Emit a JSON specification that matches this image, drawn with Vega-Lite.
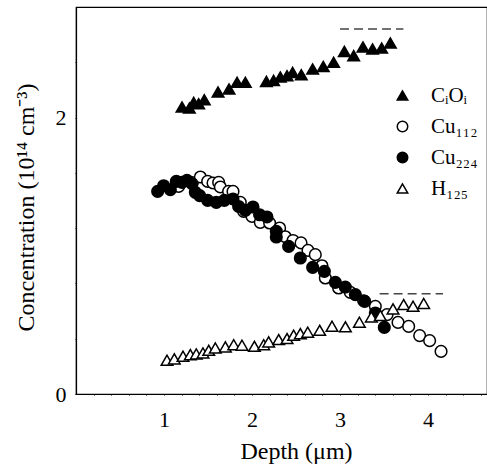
{
  "$schema": "https://vega.github.io/schema/vega-lite/v6.json",
  "width": 411,
  "height": 387,
  "autosize": "none",
  "padding": {"left": 76, "top": 7, "right": 0, "bottom": 71},
  "background": "white",
  "config": {
    "font": "Liberation Serif",
    "view": {"stroke": "black", "strokeWidth": 1.2},
    "axis": {"grid": false, "zindex": 1, "domainColor": "black", "tickColor": "black", "labelColor": "black", "titleColor": "black", "domainWidth": 1.2, "tickWidth": 1, "ticks": true, "domain": true}
  },
  "datasets": {
    "pts": [
      {"series": "Cu₁₁₂", "depth": 1.166, "conc": 1.502},
      {"series": "Cu₁₁₂", "depth": 1.32, "conc": 1.53},
      {"series": "Cu₁₁₂", "depth": 1.413, "conc": 1.570},
      {"series": "Cu₁₁₂", "depth": 1.496, "conc": 1.538},
      {"series": "Cu₁₁₂", "depth": 1.557, "conc": 1.527},
      {"series": "Cu₁₁₂", "depth": 1.621, "conc": 1.531},
      {"series": "Cu₁₁₂", "depth": 1.640, "conc": 1.498},
      {"series": "Cu₁₁₂", "depth": 1.734, "conc": 1.466},
      {"series": "Cu₁₁₂", "depth": 1.784, "conc": 1.466},
      {"series": "Cu₁₁₂", "depth": 1.867, "conc": 1.386},
      {"series": "Cu₁₁₂", "depth": 1.905, "conc": 1.321},
      {"series": "Cu₁₁₂", "depth": 2.000, "conc": 1.285},
      {"series": "Cu₁₁₂", "depth": 2.094, "conc": 1.242},
      {"series": "Cu₁₁₂", "depth": 2.200, "conc": 1.237},
      {"series": "Cu₁₁₂", "depth": 2.314, "conc": 1.201},
      {"series": "Cu₁₁₂", "depth": 2.378, "conc": 1.138},
      {"series": "Cu₁₁₂", "depth": 2.466, "conc": 1.111},
      {"series": "Cu₁₁₂", "depth": 2.557, "conc": 1.093},
      {"series": "Cu₁₁₂", "depth": 2.636, "conc": 1.039},
      {"series": "Cu₁₁₂", "depth": 2.719, "conc": 1.008},
      {"series": "Cu₁₁₂", "depth": 2.795, "conc": 0.928},
      {"series": "Cu₁₁₂", "depth": 2.833, "conc": 0.839},
      {"series": "Cu₁₁₂", "depth": 2.984, "conc": 0.767},
      {"series": "Cu₁₁₂", "depth": 3.117, "conc": 0.735},
      {"series": "Cu₁₁₂", "depth": 3.268, "conc": 0.675},
      {"series": "Cu₁₁₂", "depth": 3.401, "conc": 0.634},
      {"series": "Cu₁₁₂", "depth": 3.534, "conc": 0.574},
      {"series": "Cu₁₁₂", "depth": 3.659, "conc": 0.518},
      {"series": "Cu₁₁₂", "depth": 3.780, "conc": 0.489},
      {"series": "Cu₁₁₂", "depth": 3.905, "conc": 0.422},
      {"series": "Cu₁₁₂", "depth": 4.018, "conc": 0.386},
      {"series": "Cu₁₁₂", "depth": 4.148, "conc": 0.308},
      {"series": "Cu₂₂₄", "depth": 0.928, "conc": 1.466},
      {"series": "Cu₂₂₄", "depth": 0.996, "conc": 1.507},
      {"series": "Cu₂₂₄", "depth": 1.072, "conc": 1.478},
      {"series": "Cu₂₂₄", "depth": 1.140, "conc": 1.538},
      {"series": "Cu₂₂₄", "depth": 1.205, "conc": 1.531},
      {"series": "Cu₂₂₄", "depth": 1.261, "conc": 1.546},
      {"series": "Cu₂₂₄", "depth": 1.318, "conc": 1.522},
      {"series": "Cu₂₂₄", "depth": 1.356, "conc": 1.459},
      {"series": "Cu₂₂₄", "depth": 1.405, "conc": 1.435},
      {"series": "Cu₂₂₄", "depth": 1.496, "conc": 1.401},
      {"series": "Cu₂₂₄", "depth": 1.594, "conc": 1.386},
      {"series": "Cu₂₂₄", "depth": 1.685, "conc": 1.401},
      {"series": "Cu₂₂₄", "depth": 1.784, "conc": 1.411},
      {"series": "Cu₂₂₄", "depth": 1.848, "conc": 1.357},
      {"series": "Cu₂₂₄", "depth": 1.924, "conc": 1.329},
      {"series": "Cu₂₂₄", "depth": 2.011, "conc": 1.353},
      {"series": "Cu₂₂₄", "depth": 2.086, "conc": 1.297},
      {"series": "Cu₂₂₄", "depth": 2.170, "conc": 1.281},
      {"series": "Cu₂₂₄", "depth": 2.276, "conc": 1.177},
      {"series": "Cu₂₂₄", "depth": 2.276, "conc": 1.136},
      {"series": "Cu₂₂₄", "depth": 2.416, "conc": 1.068},
      {"series": "Cu₂₂₄", "depth": 2.549, "conc": 0.984},
      {"series": "Cu₂₂₄", "depth": 2.689, "conc": 0.916},
      {"series": "Cu₂₂₄", "depth": 2.822, "conc": 0.887},
      {"series": "Cu₂₂₄", "depth": 2.947, "conc": 0.808},
      {"series": "Cu₂₂₄", "depth": 3.060, "conc": 0.774},
      {"series": "Cu₂₂₄", "depth": 3.174, "conc": 0.719},
      {"series": "Cu₂₂₄", "depth": 3.280, "conc": 0.670},
      {"series": "Cu₂₂₄", "depth": 3.401, "conc": 0.586},
      {"series": "Cu₂₂₄", "depth": 3.503, "conc": 0.482},
      {"series": "CᵢOᵢ", "depth": 1.205, "conc": 2.077},
      {"series": "CᵢOᵢ", "depth": 1.288, "conc": 2.069},
      {"series": "CᵢOᵢ", "depth": 1.337, "conc": 2.110},
      {"series": "CᵢOᵢ", "depth": 1.394, "conc": 2.100},
      {"series": "CᵢOᵢ", "depth": 1.458, "conc": 2.129},
      {"series": "CᵢOᵢ", "depth": 1.614, "conc": 2.185},
      {"series": "CᵢOᵢ", "depth": 1.739, "conc": 2.207},
      {"series": "CᵢOᵢ", "depth": 1.830, "conc": 2.255},
      {"series": "CᵢOᵢ", "depth": 1.924, "conc": 2.255},
      {"series": "CᵢOᵢ", "depth": 2.163, "conc": 2.262},
      {"series": "CᵢOᵢ", "depth": 2.245, "conc": 2.269},
      {"series": "CᵢOᵢ", "depth": 2.322, "conc": 2.294},
      {"series": "CᵢOᵢ", "depth": 2.398, "conc": 2.303},
      {"series": "CᵢOᵢ", "depth": 2.461, "conc": 2.327},
      {"series": "CᵢOᵢ", "depth": 2.560, "conc": 2.310},
      {"series": "CᵢOᵢ", "depth": 2.689, "conc": 2.352},
      {"series": "CᵢOᵢ", "depth": 2.810, "conc": 2.370},
      {"series": "CᵢOᵢ", "depth": 2.927, "conc": 2.400},
      {"series": "CᵢOᵢ", "depth": 3.049, "conc": 2.479},
      {"series": "CᵢOᵢ", "depth": 3.155, "conc": 2.448},
      {"series": "CᵢOᵢ", "depth": 3.261, "conc": 2.511},
      {"series": "CᵢOᵢ", "depth": 3.370, "conc": 2.496},
      {"series": "CᵢOᵢ", "depth": 3.473, "conc": 2.503},
      {"series": "CᵢOᵢ", "depth": 3.572, "conc": 2.540},
      {"series": "H₁₂₅", "depth": 1.034, "conc": 0.244},
      {"series": "H₁₂₅", "depth": 1.117, "conc": 0.254},
      {"series": "H₁₂₅", "depth": 1.216, "conc": 0.273},
      {"series": "H₁₂₅", "depth": 1.299, "conc": 0.285},
      {"series": "H₁₂₅", "depth": 1.367, "conc": 0.290},
      {"series": "H₁₂₅", "depth": 1.443, "conc": 0.297},
      {"series": "H₁₂₅", "depth": 1.508, "conc": 0.316},
      {"series": "H₁₂₅", "depth": 1.583, "conc": 0.333},
      {"series": "H₁₂₅", "depth": 1.697, "conc": 0.341},
      {"series": "H₁₂₅", "depth": 1.792, "conc": 0.357},
      {"series": "H₁₂₅", "depth": 1.886, "conc": 0.353},
      {"series": "H₁₂₅", "depth": 2.027, "conc": 0.345},
      {"series": "H₁₂₅", "depth": 2.133, "conc": 0.357},
      {"series": "H₁₂₅", "depth": 2.189, "conc": 0.377},
      {"series": "H₁₂₅", "depth": 2.303, "conc": 0.394},
      {"series": "H₁₂₅", "depth": 2.398, "conc": 0.401},
      {"series": "H₁₂₅", "depth": 2.473, "conc": 0.425},
      {"series": "H₁₂₅", "depth": 2.549, "conc": 0.437},
      {"series": "H₁₂₅", "depth": 2.633, "conc": 0.447},
      {"series": "H₁₂₅", "depth": 2.769, "conc": 0.461},
      {"series": "H₁₂₅", "depth": 2.909, "conc": 0.490},
      {"series": "H₁₂₅", "depth": 3.061, "conc": 0.486},
      {"series": "H₁₂₅", "depth": 3.220, "conc": 0.519},
      {"series": "H₁₂₅", "depth": 3.356, "conc": 0.558},
      {"series": "H₁₂₅", "depth": 3.458, "conc": 0.568},
      {"series": "H₁₂₅", "depth": 3.602, "conc": 0.616},
      {"series": "H₁₂₅", "depth": 3.723, "conc": 0.647},
      {"series": "H₁₂₅", "depth": 3.830, "conc": 0.635},
      {"series": "H₁₂₅", "depth": 3.951, "conc": 0.655}
    ],
    "dashes": [
      {"x1": 3.0, "x2": 3.72, "level": 2.64},
      {"x1": 3.45, "x2": 4.17, "level": 0.726}
    ]
  },
  "resolve": {"axis": {"x": "independent"}},
  "layer": [
    {
      "data": {"name": "dashes"},
      "mark": {"type": "rule", "stroke": "#444444", "strokeWidth": 1.5, "strokeDash": [9, 5]},
      "encoding": {
        "x": {"field": "x1", "type": "quantitative", "scale": {"domain": [0, 4.67], "nice": false, "zero": false}, "axis": null},
        "x2": {"field": "x2"},
        "y": {"field": "level", "type": "quantitative"}
      }
    },
    {
      "data": {"name": "pts"},
      "mark": {"type": "point", "filled": false, "stroke": "black", "strokeWidth": 1.5, "opacity": 1, "size": 135},
      "encoding": {
        "x": {"field": "depth", "type": "quantitative", "scale": {"domain": [0, 4.67], "nice": false, "zero": false},
          "axis": {"orient": "bottom", "values": [0.2,0.4,0.6,0.8,1,1.2,1.4,1.6,1.8,2,2.2,2.4,2.6,2.8,3,3.2,3.4,3.6,3.8,4,4.2,4.4,4.6],
            "labelExpr": "datum.value % 1 === 0 ? format(datum.value, 'd') : ''",
            "tickSize": 1,
            "encode": {"ticks": {"update": {"y2": {"signal": "datum.value % 1 === 0 ? -8 : -4"}}}},
            "labelPadding": 14, "labelFontSize": 22,
            "title": "Depth (μm)", "titleFontSize": 24, "titleFontWeight": "normal", "titleX": 220, "titleY": 64, "titleBaseline": "alphabetic"}},
        "y": {"field": "conc", "type": "quantitative", "scale": {"domain": [0, 2.8], "nice": false},
          "axis": {"values": [0,0.2,0.4,0.6,0.8,1,1.2,1.4,1.6,1.8,2,2.2,2.4,2.6],
            "labelExpr": "datum.value % 1 === 0 ? format(datum.value, 'd') : ''",
            "tickSize": 1,
            "encode": {"ticks": {"update": {"x2": {"signal": "datum.value % 1 === 0 ? 8 : 4"}}}},
            "labelPadding": 9, "labelFontSize": 22,
            "title": "Concentration (10¹⁴ cm⁻³)", "titleFontSize": 24, "titleFontWeight": "normal", "titleX": -43, "titleY": 200, "titleBaseline": "alphabetic"}},
        "shape": {"field": "series", "type": "nominal",
          "scale": {"domain": ["CᵢOᵢ", "Cu₁₁₂", "Cu₂₂₄", "H₁₂₅"], "range": ["triangle-up", "circle", "circle", "triangle-up"]},
          "legend": {"title": null, "orient": "none", "legendX": 316, "legendY": 78, "padding": 0, "labelFontSize": 21, "labelColor": "black", "symbolSize": 110, "rowPadding": 9, "labelOffset": 18,
            "encode": {"symbols": {"update": {"stroke": {"value": "black"}, "strokeWidth": {"value": 2}}}}}},
        "fill": {"field": "series", "type": "nominal",
          "scale": {"domain": ["CᵢOᵢ", "Cu₁₁₂", "Cu₂₂₄", "H₁₂₅"], "range": ["black", "white", "black", "white"]},
          "legend": {"title": null, "orient": "none", "legendX": 316, "legendY": 78, "padding": 0, "labelFontSize": 21, "labelColor": "black", "symbolSize": 110, "rowPadding": 9, "labelOffset": 18,
            "encode": {"symbols": {"update": {"stroke": {"value": "black"}, "strokeWidth": {"value": 2}}}}}}
      }
    }
  ]
}
